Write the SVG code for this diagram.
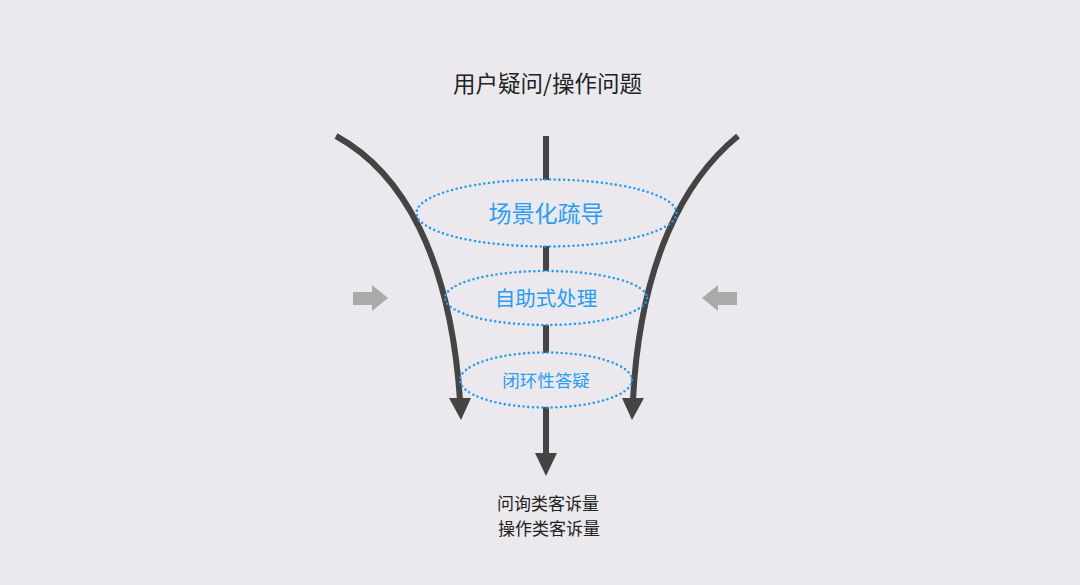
<svg xmlns="http://www.w3.org/2000/svg" width="1080" height="585" viewBox="0 0 1080 585">
<style>
.bg{fill:#EBE9ED}
.ln{fill:none;stroke:#444444;stroke-width:6}
.hd{fill:#444444}
.ring{fill:none;stroke:#2A9CF2;stroke-width:2.6;stroke-linecap:round;stroke-dasharray:0 4.7}
.lbl{font-family:"Noto Sans CJK SC","Noto Sans",sans-serif;fill:#2A9CF2;text-anchor:middle;dominant-baseline:central}
.dark{font-family:"Noto Sans CJK SC","Noto Sans",sans-serif;fill:#222222;text-anchor:middle}
.gray{fill:#AAAAAA}
</style>
<rect class="bg" x="0" y="0" width="1080" height="585"/>
<g id="title"><text class="dark" x="547.5" y="92" font-size="22.5">用户疑问/操作问题</text></g>
<g id="connectors">
<path class="ln" d="M546,136V180M546,246V271M546,325V353M546,407V455"/>
<polygon class="hd" points="535,453 557,453 546,476"/>
<path class="ln" d="M336,136C402,172 450,255 460,400"/>
<polygon class="hd" points="449,398 471,398 461,420"/>
<path class="ln" d="M738,136C684,180 640,262 633,400"/>
<polygon class="hd" points="622,398 644,398 632,420"/>
</g>
<g id="arrow-left"><polygon class="gray" points="353,292 372,292 372,285 388,298 372,311 372,305 353,305"/></g>
<g id="arrow-right"><polygon class="gray" points="737,292 718,292 718,285 702,298 718,311 718,305 737,305"/></g>
<g id="node-1"><ellipse class="ring" cx="546.5" cy="213" rx="130" ry="33.5"/><text class="lbl" x="546" y="212" font-size="23">场景化疏导</text></g>
<g id="node-2"><ellipse class="ring" cx="546" cy="298" rx="101" ry="27"/><text class="lbl" x="546" y="297" font-size="20.5">自助式处理</text></g>
<g id="node-3"><ellipse class="ring" cx="546" cy="380" rx="86" ry="27.5"/><text class="lbl" x="546" y="379" font-size="17.5">闭环性答疑</text></g>
<g id="result"><text class="dark" x="548" y="510" font-size="17">问询类客诉量</text><text class="dark" x="549" y="535" font-size="17">操作类客诉量</text></g>
</svg>
